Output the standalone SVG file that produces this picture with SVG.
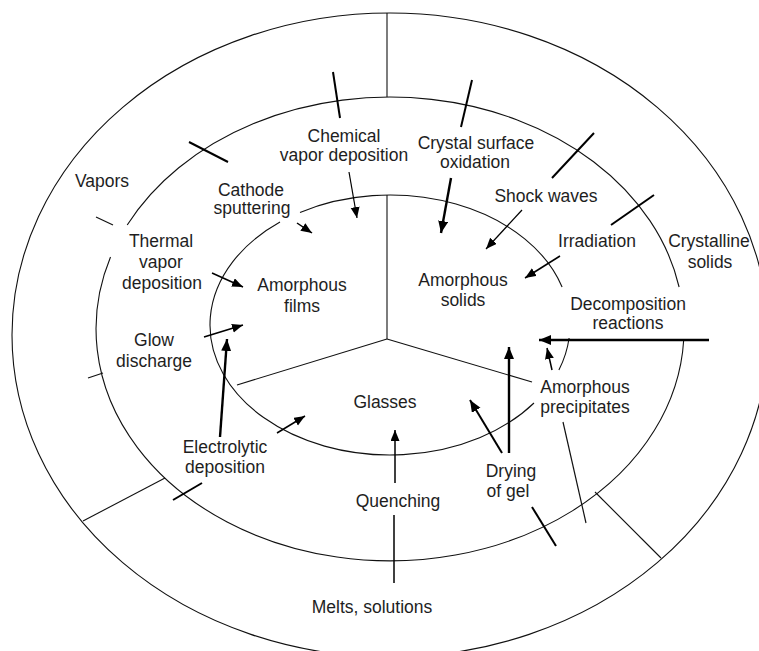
<svg xmlns="http://www.w3.org/2000/svg" width="759" height="651" viewBox="0 0 759 651">
<style>
  text { font-family: "Liberation Sans", Arial, sans-serif; font-size: 17.5px; fill: #1e1e1e; text-anchor: middle; }
  .ring { fill: none; stroke: #111; stroke-width: 1.1; }
  .div { fill: none; stroke: #111; stroke-width: 1.1; }
  .tick { stroke: #000; stroke-width: 2; }
  .thin { stroke: #111; stroke-width: 1.2; }
  .arr { stroke: #000; stroke-width: 1.5; fill: none; marker-end: url(#ah); }
  .arr2 { stroke: #000; stroke-width: 2.4; fill: none; marker-end: url(#ah2); }
  .line { stroke: #000; stroke-width: 1.5; fill: none; }
</style>
<defs>
  <marker id="ah" markerUnits="userSpaceOnUse" markerWidth="12" markerHeight="10" refX="11" refY="4.5" orient="auto">
    <path d="M0,0 L11,4.5 L0,9 z" fill="#000"/>
  </marker>
  <marker id="ah2" markerUnits="userSpaceOnUse" markerWidth="13" markerHeight="11" refX="12" refY="5" orient="auto">
    <path d="M0,0 L12,5 L0,10 z" fill="#000"/>
  </marker>
</defs>
<rect x="0" y="0" width="759" height="651" fill="#fff"/>

<g id="rings">
  <ellipse class="ring" cx="390" cy="335" rx="378" ry="322"/>
  <path class="ring" d="M110.5,257 A294,232 0 1 0 683.7,340"/>
  <path class="ring" d="M679.1,287 A294,232 0 0 0 127.2,225"/>
  <path class="ring" d="M300,212.4 A180,130 0 0 1 562.1,287"/>
  <path class="ring" d="M569.1,338 A180,130 0 0 1 558.9,370"/>
  <path class="ring" d="M534,403 A180,130 0 1 1 280,222.1"/>
</g>

<g id="dividers">
  <line class="div" x1="387" y1="13" x2="387" y2="97"/>
  <line class="div" x1="387" y1="195" x2="387" y2="339"/>
  <line class="div" x1="387" y1="339" x2="237" y2="385"/>
  <line class="div" x1="387" y1="339" x2="532" y2="382"/>
  <line class="div" x1="83" y1="521" x2="165" y2="478"/>
  <line class="div" x1="595" y1="492" x2="661" y2="558"/>
</g>

<g id="connectors">
  <line class="tick" x1="333" y1="72" x2="340" y2="118"/>
  <line class="tick" x1="472" y1="80" x2="461" y2="127"/>
  <line class="tick" x1="189" y1="142" x2="228" y2="162"/>
  <line class="tick" x1="594" y1="133" x2="552" y2="178"/>
  <line class="tick" x1="654" y1="195" x2="611" y2="225"/>
  <line class="thin" x1="96" y1="217" x2="113" y2="225"/>
  <line class="thin" x1="88" y1="378" x2="103" y2="373"/>
  <line class="tick" x1="173" y1="500" x2="202" y2="483"/>
  <line class="tick" x1="532" y1="507" x2="556" y2="546"/>
  <line class="thin" x1="563" y1="422" x2="586" y2="523"/>

  <line class="arr" x1="349" y1="172" x2="357" y2="218" style="stroke-width:1.2"/>
  <line class="arr2" x1="451" y1="178" x2="441" y2="233"/>
  <line class="arr" x1="297" y1="223" x2="312" y2="233"/>
  <line class="arr" x1="522" y1="210" x2="486" y2="249" style="stroke-width:1.2"/>
  <line class="arr" x1="560" y1="256" x2="525" y2="278"/>
  <line class="arr" x1="212" y1="273" x2="243" y2="287"/>
  <line class="arr" x1="204" y1="337" x2="243" y2="325"/>
  <line class="arr2" x1="220" y1="437" x2="227" y2="339"/>
  <line class="arr" x1="277" y1="433" x2="305" y2="416"/>
  <line class="arr" x1="395" y1="483" x2="395" y2="430"/>
  <line class="line" x1="394" y1="515" x2="394" y2="583"/>
  <line class="arr2" x1="509" y1="453" x2="509" y2="347"/>
  <line class="arr2" x1="502" y1="453" x2="470" y2="400" style="stroke-width:2"/>
  <line class="arr2" x1="709" y1="340" x2="539" y2="340"/>
  <line class="arr" x1="552" y1="370" x2="547" y2="348"/>
</g>

<g id="vapors"><text x="102" y="187">Vapors</text></g>
<g id="chemical-vapor-deposition"><text x="344" y="142">Chemical</text><text x="344" y="161">vapor deposition</text></g>
<g id="crystal-surface-oxidation"><text x="476" y="149">Crystal surface</text><text x="475" y="168">oxidation</text></g>
<g id="cathode-sputtering"><text x="251" y="196">Cathode</text><text x="252" y="214">sputtering</text></g>
<g id="thermal-vapor-deposition"><text x="161" y="247">Thermal</text><text x="161" y="268">vapor</text><text x="162" y="289">deposition</text></g>
<g id="shock-waves"><text x="546" y="202">Shock waves</text></g>
<g id="irradiation"><text x="597" y="247">Irradiation</text></g>
<g id="crystalline-solids"><text x="709" y="247">Crystalline</text><text x="710" y="268">solids</text></g>
<g id="amorphous-films"><text x="302" y="291">Amorphous</text><text x="302" y="312">films</text></g>
<g id="amorphous-solids"><text x="463" y="286">Amorphous</text><text x="463" y="306">solids</text></g>
<g id="decomposition-reactions"><text x="628" y="310">Decomposition</text><text x="628" y="329">reactions</text></g>
<g id="glow-discharge"><text x="154" y="346">Glow</text><text x="154" y="367">discharge</text></g>
<g id="glasses"><text x="385" y="408">Glasses</text></g>
<g id="amorphous-precipitates"><text x="585" y="393">Amorphous</text><text x="585" y="413">precipitates</text></g>
<g id="electrolytic-deposition"><text x="225" y="453">Electrolytic</text><text x="225" y="473">deposition</text></g>
<g id="drying-of-gel"><text x="511" y="477">Drying</text><text x="508" y="497">of gel</text></g>
<g id="quenching"><text x="398" y="507">Quenching</text></g>
<g id="melts-solutions"><text x="372" y="613">Melts, solutions</text></g>
</svg>
